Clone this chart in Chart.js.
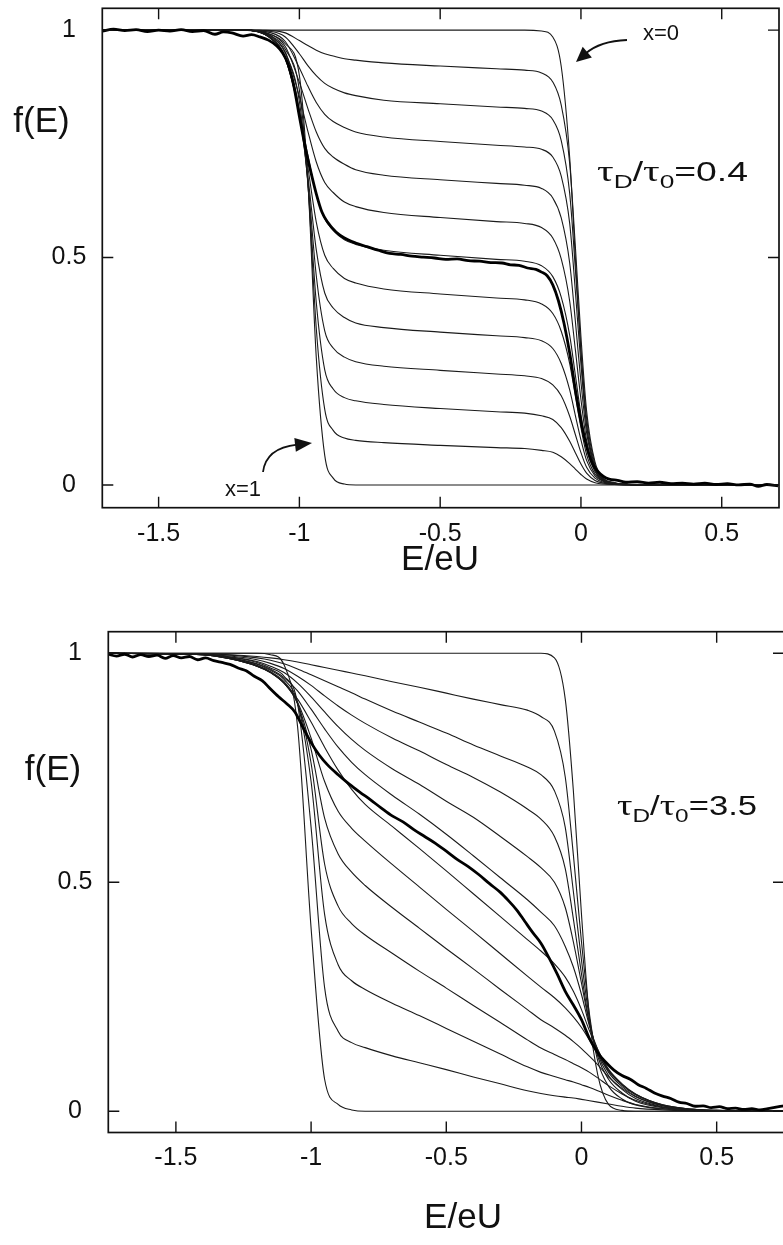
<!DOCTYPE html>
<html><head><meta charset="utf-8">
<script src="https://cdn.jsdelivr.net/npm/chart.js@4.4.1/dist/chart.umd.min.js"></script>
<style>
html,body{margin:0;padding:0;background:#fff;overflow:hidden;}
body{width:783px;height:1245px;position:relative;}
#wrapTop{position:absolute;left:0;top:0;width:783px;height:590px;}
#wrapBot{position:absolute;left:0;top:590px;width:790px;height:655px;}
</style></head><body>
<div id="wrapTop"><canvas id="cTop" width="783" height="590"></canvas></div>
<div id="wrapBot"><canvas id="cBot" width="790" height="655"></canvas></div>
<script>
// ---------------- DATA: upper panel (tauD/tau0 = 0.4) ----------------
const xTickVals = [-1.5, -1, -0.5, 0, 0.5];
const yTickVals = [0, 0.5, 1];

const topE = [-1.70,-1.20,-1.10,-1.05,-1.00,-0.97,-0.94,-0.91,-0.88,-0.84,-0.80,-0.70,-0.50,-0.30,-0.20,-0.14,-0.10,-0.07,-0.04,-0.02,0.00,0.02,0.05,0.08,0.12,0.17,0.25,0.70];
const topX00 = [1,1,1,1,1,1,1,1,1,1,1,1,1,1,1,0.998,0.985,0.92,0.72,0.50,0.29,0.13,0.035,0.008,0.002,0,0,0];
const topX01 = [1,1,0.999,0.994,0.977,0.966,0.956,0.948,0.943,0.937,0.934,0.928,0.921,0.915,0.912,0.906,0.886,0.835,0.707,0.526,0.326,0.163,0.050,0.015,0.005,0.001,0,0];
const topX02 = [1,1,0.997,0.985,0.948,0.922,0.900,0.883,0.872,0.862,0.856,0.846,0.838,0.831,0.828,0.822,0.803,0.757,0.641,0.476,0.296,0.148,0.045,0.014,0.004,0.001,0,0];
const topX03 = [1,1,0.994,0.975,0.917,0.877,0.841,0.815,0.799,0.786,0.776,0.765,0.755,0.747,0.743,0.738,0.721,0.679,0.575,0.427,0.265,0.132,0.040,0.012,0.004,0.001,0,0];
const topX04 = [1,1,0.990,0.964,0.885,0.828,0.776,0.740,0.721,0.705,0.693,0.681,0.671,0.663,0.659,0.652,0.631,0.587,0.488,0.361,0.226,0.115,0.037,0.012,0.004,0.001,0,0];
const topX05 = [1,1,0.986,0.952,0.854,0.778,0.710,0.665,0.643,0.622,0.612,0.599,0.588,0.579,0.575,0.566,0.543,0.497,0.404,0.298,0.188,0.098,0.033,0.011,0.003,0.001,0,0];
const topX06 = [1,1,0.981,0.939,0.821,0.725,0.639,0.585,0.560,0.539,0.529,0.516,0.505,0.496,0.492,0.482,0.458,0.413,0.329,0.242,0.155,0.082,0.029,0.011,0.003,0.001,0,0];
const topX07 = [1,1,0.981,0.937,0.815,0.699,0.578,0.505,0.476,0.454,0.444,0.431,0.420,0.411,0.407,0.398,0.377,0.338,0.267,0.196,0.126,0.067,0.024,0.009,0.003,0.001,0,0];
const topX08 = [1,1,0.981,0.938,0.815,0.679,0.517,0.422,0.389,0.368,0.356,0.346,0.336,0.328,0.324,0.317,0.300,0.267,0.209,0.153,0.099,0.054,0.020,0.008,0.002,0.001,0,0];
const topX09 = [1,1,0.982,0.942,0.825,0.668,0.460,0.339,0.301,0.281,0.271,0.261,0.252,0.244,0.240,0.234,0.220,0.196,0.151,0.111,0.071,0.039,0.015,0.006,0.002,0.001,0,0];
const topX10 = [1,1,0.984,0.949,0.843,0.663,0.401,0.253,0.211,0.192,0.185,0.177,0.168,0.161,0.158,0.152,0.144,0.126,0.096,0.071,0.046,0.026,0.010,0.004,0.001,0,0,0];
const topX11 = [1,1,0.987,0.958,0.868,0.665,0.344,0.166,0.120,0.103,0.098,0.093,0.087,0.082,0.080,0.076,0.072,0.062,0.047,0.035,0.023,0.013,0.005,0.002,0.001,0,0,0];
const topX12 = [1,1,0.99,0.97,0.90,0.67,0.28,0.065,0.015,0.002,0,0,0,0,0,0,0,0,0,0,0,0,0,0,0,0,0,0];

const topMeasE = [-1.70,-1.66,-1.62,-1.58,-1.54,-1.50,-1.46,-1.42,-1.38,-1.34,-1.30,-1.27,-1.24,-1.20,-1.17,-1.14,-1.11,-1.08,-1.06,-1.04,-1.02,-1.00,-0.98,-0.96,-0.94,-0.92,-0.90,-0.87,-0.84,-0.80,-0.76,-0.72,-0.68,-0.64,-0.60,-0.56,-0.52,-0.48,-0.44,-0.40,-0.36,-0.32,-0.28,-0.25,-0.22,-0.19,-0.16,-0.14,-0.12,-0.10,-0.08,-0.06,-0.04,-0.02,0.00,0.02,0.04,0.06,0.08,0.10,0.13,0.16,0.20,0.24,0.28,0.32,0.36,0.40,0.44,0.48,0.52,0.56,0.60,0.63,0.66,0.70];
const topMeasF = [0.998,1.002,0.999,1.001,0.997,1.000,0.998,1.001,0.997,0.999,0.991,0.996,0.994,0.987,0.990,0.985,0.978,0.965,0.950,0.925,0.878,0.810,0.745,0.690,0.640,0.600,0.578,0.556,0.543,0.532,0.524,0.516,0.509,0.507,0.503,0.501,0.499,0.496,0.497,0.493,0.492,0.489,0.488,0.484,0.483,0.477,0.474,0.468,0.460,0.440,0.405,0.355,0.290,0.210,0.140,0.085,0.048,0.030,0.019,0.013,0.010,0.006,0.007,0.004,0.006,0.003,0.004,0.002,0.004,0.001,0.003,0.000,0.002,-0.003,0.001,-0.002];

// ---------------- DATA: lower panel (tauD/tau0 = 3.5) ----------------
const botE = [-1.75,-1.40,-1.30,-1.20,-1.15,-1.10,-1.05,-1.00,-0.95,-0.90,-0.85,-0.80,-0.70,-0.60,-0.50,-0.40,-0.30,-0.20,-0.15,-0.10,-0.06,-0.03,0.00,0.03,0.06,0.10,0.15,0.20,0.30,0.40,0.50,0.75];
const botX00 = [1,1,1,1,1,1,1,1,1,1,1,1,1,1,1,1,1,1,1,0.99,0.90,0.70,0.43,0.20,0.08,0.015,0.002,0,0,0,0,0];
const botX01 = [1,0.999,0.997,0.993,0.99,0.986,0.981,0.975,0.969,0.963,0.957,0.951,0.938,0.926,0.913,0.900,0.888,0.876,0.862,0.83,0.73,0.56,0.37,0.21,0.11,0.055,0.027,0.014,0.005,0.002,0.001,0];
const botX02 = [1,0.999,0.996,0.99,0.985,0.977,0.966,0.953,0.94,0.927,0.914,0.90,0.874,0.85,0.826,0.80,0.776,0.752,0.735,0.70,0.62,0.48,0.33,0.20,0.12,0.07,0.04,0.022,0.008,0.003,0.001,0];
const botX03 = [1,0.998,0.994,0.986,0.978,0.967,0.95,0.93,0.907,0.885,0.865,0.847,0.815,0.787,0.757,0.729,0.697,0.66,0.638,0.60,0.53,0.42,0.30,0.19,0.125,0.078,0.048,0.028,0.010,0.004,0.001,0];
const botX04 = [1,0.998,0.992,0.982,0.972,0.958,0.935,0.905,0.872,0.84,0.812,0.788,0.748,0.714,0.677,0.642,0.60,0.556,0.532,0.50,0.445,0.37,0.28,0.19,0.13,0.085,0.054,0.033,0.012,0.004,0.001,0];
const botX05 = [1,0.997,0.99,0.977,0.965,0.947,0.918,0.878,0.835,0.795,0.762,0.735,0.69,0.649,0.605,0.558,0.51,0.462,0.435,0.405,0.36,0.315,0.255,0.185,0.135,0.09,0.058,0.036,0.013,0.005,0.002,0];
const botX06 = [1,0.997,0.988,0.972,0.958,0.935,0.90,0.85,0.795,0.745,0.703,0.67,0.622,0.574,0.525,0.475,0.425,0.375,0.35,0.322,0.293,0.262,0.222,0.175,0.135,0.092,0.06,0.038,0.014,0.005,0.002,0];
const botX07 = [1,0.997,0.988,0.972,0.958,0.935,0.893,0.815,0.72,0.655,0.618,0.59,0.539,0.49,0.441,0.393,0.344,0.295,0.271,0.248,0.226,0.206,0.183,0.155,0.125,0.088,0.058,0.037,0.014,0.005,0.002,0];
const botX08 = [1,0.997,0.988,0.972,0.958,0.935,0.89,0.79,0.64,0.562,0.522,0.493,0.445,0.40,0.355,0.311,0.266,0.222,0.20,0.182,0.166,0.152,0.137,0.12,0.102,0.075,0.05,0.032,0.012,0.004,0.001,0];
const botX09 = [1,0.997,0.989,0.974,0.96,0.938,0.89,0.76,0.54,0.448,0.41,0.385,0.345,0.306,0.269,0.231,0.194,0.156,0.138,0.124,0.113,0.104,0.095,0.085,0.073,0.056,0.038,0.024,0.009,0.003,0.001,0];
const botX10 = [1,0.997,0.99,0.976,0.963,0.943,0.892,0.72,0.43,0.32,0.285,0.266,0.236,0.209,0.181,0.153,0.125,0.097,0.085,0.076,0.069,0.064,0.058,0.052,0.045,0.035,0.024,0.015,0.006,0.002,0.001,0];
const botX11 = [1,0.998,0.992,0.98,0.968,0.95,0.89,0.62,0.27,0.175,0.15,0.139,0.121,0.106,0.091,0.075,0.06,0.045,0.039,0.034,0.031,0.029,0.026,0.023,0.02,0.016,0.011,0.007,0.003,0.001,0,0];
const botX12 = [1,1,1,1,0.997,0.975,0.84,0.40,0.07,0.015,0.003,0,0,0,0,0,0,0,0,0,0,0,0,0,0,0,0,0,0,0,0,0];

const botMeasE = [-1.75,-1.72,-1.69,-1.66,-1.63,-1.60,-1.57,-1.54,-1.51,-1.48,-1.45,-1.42,-1.39,-1.36,-1.33,-1.30,-1.27,-1.24,-1.21,-1.18,-1.15,-1.12,-1.09,-1.06,-1.03,-1.00,-0.97,-0.94,-0.90,-0.86,-0.82,-0.78,-0.74,-0.70,-0.66,-0.62,-0.58,-0.54,-0.50,-0.46,-0.42,-0.38,-0.34,-0.30,-0.27,-0.24,-0.21,-0.18,-0.15,-0.12,-0.09,-0.06,-0.03,0.00,0.03,0.06,0.09,0.12,0.15,0.18,0.21,0.24,0.27,0.30,0.33,0.36,0.39,0.42,0.45,0.48,0.51,0.54,0.57,0.60,0.63,0.66,0.69,0.72,0.75];
const botMeasF = [0.998,0.994,0.998,0.992,0.997,0.993,0.996,0.989,0.995,0.990,0.993,0.986,0.990,0.984,0.980,0.976,0.968,0.962,0.950,0.940,0.922,0.905,0.890,0.872,0.838,0.805,0.778,0.757,0.735,0.715,0.697,0.680,0.662,0.645,0.632,0.615,0.600,0.585,0.568,0.550,0.535,0.517,0.497,0.478,0.460,0.440,0.415,0.390,0.367,0.335,0.300,0.262,0.232,0.200,0.158,0.128,0.107,0.090,0.078,0.070,0.058,0.050,0.040,0.033,0.028,0.020,0.017,0.011,0.012,0.008,0.010,0.006,0.007,0.004,0.006,0.003,0.006,0.009,0.012];

const topTheory = [topX00,topX01,topX02,topX03,topX04,topX05,topX06,topX07,topX08,topX09,topX10,topX11,topX12];
const botTheory = [botX00,botX01,botX02,botX03,botX04,botX05,botX06,botX07,botX08,botX09,botX10,botX11,botX12];

// ---------------- RENDERING ----------------
const SANS = "'Liberation Sans', Arial, Helvetica, sans-serif";
const NARROW = "'Liberation Sans Narrow', 'Arial Narrow', 'Liberation Sans', sans-serif";
const SERIF = "'Liberation Serif', 'Times New Roman', serif";
const INK = '#111';

const frameTicks = {
  id: 'frameTicks',
  afterDatasetsDraw(chart, args, o) {
    const {ctx, chartArea: a, scales} = chart;
    ctx.save();
    ctx.strokeStyle = INK;
    ctx.lineWidth = 1.7;
    ctx.strokeRect(a.left, a.top, a.right - a.left, a.bottom - a.top);
    ctx.lineWidth = 1.4;
    const L = o.len || 11;
    ctx.beginPath();
    xTickVals.forEach(v => {
      const p = scales.x.getPixelForValue(v);
      ctx.moveTo(p, a.bottom); ctx.lineTo(p, a.bottom - L);
      ctx.moveTo(p, a.top); ctx.lineTo(p, a.top + L);
    });
    yTickVals.forEach(v => {
      const p = scales.y.getPixelForValue(v);
      ctx.moveTo(a.left, p); ctx.lineTo(a.left + L, p);
      ctx.moveTo(a.right, p); ctx.lineTo(a.right - L, p);
    });
    ctx.stroke();
    ctx.restore();
  }
};

const notes = {
  id: 'notes',
  afterDraw(chart, args, o) {
    const ctx = chart.ctx;
    ctx.save();
    ctx.fillStyle = INK; ctx.strokeStyle = INK;
    (o.texts || []).forEach(t => {
      ctx.font = t.size + 'px ' + SANS;
      ctx.textAlign = 'center'; ctx.textBaseline = 'middle';
      ctx.fillText(t.t, t.x, t.y);
    });
    (o.rich || []).forEach(r => {
      ctx.textAlign = 'left'; ctx.textBaseline = 'alphabetic';
      let nat = 0;
      r.parts.forEach(p => { ctx.font = p.size + 'px ' + (p.serif ? SERIF : SANS); nat += ctx.measureText(p.t).width; });
      const k = r.w ? r.w / nat : 1;
      ctx.save();
      ctx.translate(r.x, r.y); ctx.scale(k, 1);
      let x = 0;
      r.parts.forEach(p => {
        ctx.font = p.size + 'px ' + (p.serif ? SERIF : SANS);
        ctx.fillText(p.t, x, p.dy || 0);
        x += ctx.measureText(p.t).width;
      });
      ctx.restore();
    });
    (o.arrows || []).forEach(a => {
      const [tx, ty] = a.tip, [cx, cy] = a.ctrl, [sx, sy] = a.tail;
      let dx = tx - cx, dy = ty - cy; const d = Math.hypot(dx, dy); dx /= d; dy /= d;
      const bx = tx - dx * a.len, by = ty - dy * a.len;
      ctx.lineWidth = 1.8;
      ctx.beginPath(); ctx.moveTo(sx, sy); ctx.quadraticCurveTo(cx, cy, bx + dx * 2, by + dy * 2); ctx.stroke();
      ctx.beginPath(); ctx.moveTo(tx, ty);
      ctx.lineTo(bx - dy * a.half, by + dx * a.half);
      ctx.lineTo(bx + dy * a.half, by - dx * a.half);
      ctx.closePath(); ctx.fill();
    });
    ctx.restore();
  }
};

function pts(E, F) { return E.map((e, i) => ({x: e, y: F[i]})); }
function fmt(v) { return v === 0 ? '0' : String(v); }

function makeChart(id, c) {
  const canvas = document.getElementById(id);
  const W = canvas.width, H = canvas.height;
  const datasets = c.theory.map(arr => ({
    data: pts(c.E, arr), borderColor: '#1b1b1b', borderWidth: 1.1, pointRadius: 0,
    cubicInterpolationMode: 'monotone', fill: false, order: 1
  }));
  datasets.push({
    data: pts(c.measE, c.measF), borderColor: '#000', borderWidth: 2.8, pointRadius: 0,
    cubicInterpolationMode: 'monotone', fill: false, order: 0, borderJoinStyle: 'round'
  });
  return new Chart(canvas, {
    type: 'line',
    data: {datasets},
    plugins: [frameTicks, notes],
    options: {
      responsive: false, animation: false, devicePixelRatio: 1,
      layout: {padding: {left: 0, top: c.top, right: W - c.right, bottom: 0}},
      plugins: {legend: {display: false}, tooltip: {enabled: false}, notes: c.notes, frameTicks: {len: 11}},
      scales: {
        x: {
          type: 'linear', min: c.xMin, max: c.xMax,
          afterBuildTicks: s => { s.ticks = xTickVals.map(v => ({value: v})); },
          afterFit: s => { s.height = H - c.bottom; s.paddingLeft = 0; s.paddingRight = 0; s.paddingTop = 0; s.paddingBottom = 0; },
          grid: {display: false, drawTicks: false}, border: {display: false},
          ticks: {padding: c.xPad, color: INK, font: {size: 25, family: NARROW}, callback: v => fmt(v), maxRotation: 0, autoSkip: false}
        },
        y: {
          type: 'linear', min: c.yMin, max: c.yMax,
          afterBuildTicks: s => { s.ticks = yTickVals.map(v => ({value: v})); },
          afterFit: s => { s.width = c.left; s.paddingLeft = 0; s.paddingRight = 0; s.paddingTop = 0; s.paddingBottom = 0; },
          grid: {display: false, drawTicks: false}, border: {display: false},
          ticks: {padding: 16, crossAlign: 'center', color: INK, font: {size: 25, family: NARROW}, callback: v => fmt(v), autoSkip: false}
        }
      }
    }
  });
}

makeChart('cTop', {
  E: topE, theory: topTheory, measE: topMeasE, measF: topMeasF,
  xMin: -1.70, xMax: 0.7034, yMin: -0.05, yMax: 1.048,
  left: 102.3, top: 8.3, right: 779, bottom: 507.7, xPad: 11,
  notes: {
    texts: [
      {t: 'f(E)', x: 41.5, y: 122, size: 35},
      {t: 'E/eU', x: 440, y: 560, size: 35},
      {t: 'x=0', x: 661, y: 34, size: 22},
      {t: 'x=1', x: 243, y: 490, size: 22}
    ],
    rich: [{x: 597, y: 181, w: 151, parts: [
      {t: 'τ', serif: true, size: 30}, {t: 'D', size: 19, dy: 7}, {t: '/', size: 27},
      {t: 'τ', serif: true, size: 30}, {t: '0', size: 19, dy: 7}, {t: '=0.4', size: 27}]}],
    arrows: [
      {tail: [627, 40], ctrl: [600, 41], tip: [576, 62], len: 15, half: 7},
      {tail: [263, 472], ctrl: [266, 448], tip: [312, 443], len: 17, half: 7}
    ]
  }
});

makeChart('cBot', {
  E: botE, theory: botTheory, measE: botMeasE, measF: botMeasF,
  xMin: -1.75, xMax: 0.749, yMin: -0.0463, yMax: 1.0472,
  left: 108.3, top: 41.7, right: 784, bottom: 542.5, xPad: 11,
  notes: {
    texts: [
      {t: 'f(E)', x: 53, y: 180, size: 35},
      {t: 'E/eU', x: 463, y: 628, size: 35}
    ],
    rich: [{x: 617, y: 225, w: 140, parts: [
      {t: 'τ', serif: true, size: 30}, {t: 'D', size: 19, dy: 7}, {t: '/', size: 27},
      {t: 'τ', serif: true, size: 30}, {t: '0', size: 19, dy: 7}, {t: '=3.5', size: 27}]}]
  }
});
</script></body></html>
